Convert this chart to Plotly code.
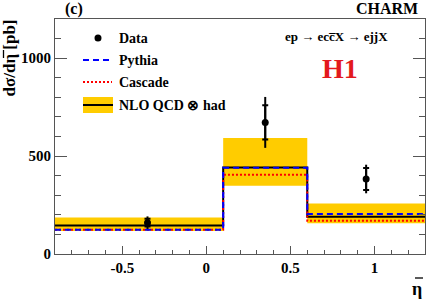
import plotly.graph_objects as go

# ---- data ----
bin_edges = [-0.9, 0.1, 0.6, 1.3]
data_x = [-0.35, 0.35, 0.95]
data_y = [160, 672, 383]
data_err_stat = [20, 87, 56]
data_err_tot = [32, 130, 73]

nlo = [145, 442, 190]
nlo_low = [118, 348, 157]
nlo_high = [187, 592, 258]
pythia = [124, 440, 204]
cascade = [124, 405, 170]

y_ticks = [0, 500, 1000]
y_tick_labels = ["0", "500", "1000"]
x_ticks = [-0.5, 0, 0.5, 1]
x_tick_labels = ["-0.5", "0", "0.5", "1"]


def step(vals):
    return list(vals) + [vals[-1]]


FONT = "Liberation Serif"
W, H = 426, 303
L, R, T, B = 55, 1, 19, 49
PW, PH = W - L - R, H - T - B


def px(x):
    return (x - L) / PW


def py(y):
    return (H - B - y) / PH


fig = go.Figure()

# band
fig.add_trace(go.Scatter(x=bin_edges, y=step(nlo_low), mode="lines", line=dict(width=0, shape="hv"),
                         showlegend=False, hoverinfo="skip"))
fig.add_trace(go.Scatter(x=bin_edges, y=step(nlo_high), mode="lines", line=dict(width=0, shape="hv"),
                         fill="tonexty", fillcolor="#FFCC00", showlegend=False, hoverinfo="skip"))
# NLO
fig.add_trace(go.Scatter(x=bin_edges, y=step(nlo), mode="lines", line=dict(color="black", width=2, shape="hv"),
                         showlegend=False))
# Cascade
fig.add_trace(go.Scatter(x=bin_edges, y=step(cascade), mode="lines",
                         line=dict(color="#FF0000", width=2, shape="hv", dash="2px,2px"), showlegend=False))
# Pythia
fig.add_trace(go.Scatter(x=bin_edges, y=step(pythia), mode="lines",
                         line=dict(color="#0000FF", width=2, shape="hv", dash="6px,4px"), showlegend=False))
# Data total error
fig.add_trace(go.Scatter(x=data_x, y=data_y, mode="markers", marker=dict(color="black", size=1),
                         error_y=dict(type="data", array=data_err_tot, color="black", thickness=2, width=0),
                         showlegend=False))
# Data stat error + points
fig.add_trace(go.Scatter(x=data_x, y=data_y, mode="markers", marker=dict(color="black", size=7),
                         error_y=dict(type="data", array=data_err_stat, color="black", thickness=2, width=3),
                         showlegend=False))

axis_font = dict(family=FONT, size=15, color="black")

fig.update_xaxes(range=[-0.9, 1.3], tickvals=x_ticks, ticktext=[f"<b>{t}</b>" for t in x_tick_labels],
                 ticks="inside", ticklen=8, tickwidth=1, tickcolor="#555",
                 minor=dict(dtick=0.1, ticks="inside", ticklen=4, tickcolor="#555"),
                 showline=True, linecolor="#555", linewidth=1, mirror=True,
                 showgrid=False, zeroline=False, tickfont=axis_font)
fig.update_yaxes(range=[0, 1200], tickvals=y_ticks, ticktext=[f"<b>{t}</b>" for t in y_tick_labels],
                 ticks="inside", ticklen=12, tickwidth=1, tickcolor="#555",
                 minor=dict(dtick=100, ticks="inside", ticklen=6, tickcolor="#555"),
                 showline=True, linecolor="#555", linewidth=1, mirror="ticks",
                 showgrid=False, zeroline=False, tickfont=axis_font)

ann = []


def text(x, y, s, size=14, xanchor="left", yanchor="middle", color="black", angle=0):
    ann.append(dict(x=px(x), y=py(y), xref="paper", yref="paper", text=f"<b>{s}</b>", showarrow=False,
                    xanchor=xanchor, yanchor=yanchor, textangle=angle,
                    font=dict(family=FONT, size=size, color=color)))


text(63, 9, "(c)", size=16)
text(420, 9, "CHARM", size=16, xanchor="right")
text(283, 36, "ep → ecc\u0305X → ejjX", size=13)
text(340, 68, "H1", size=28, xanchor="center", color="#E3191C")
text(9, 18, "dσ/dη [pb]", size=17, xanchor="center", yanchor="top", angle=-90)
text(424, 289, "η", size=18, xanchor="right")

# legend
leg_y = [38, 60, 82, 105]
leg_lbl = ["Data", "Pythia", "Cascade", "NLO QCD ⊗ had"]
for yy, lbl in zip(leg_y, leg_lbl):
    text(117, yy, lbl, size=14)

shapes = []


def pline(x0, y0, x1, y1, color="black", width=2, dash=None):
    shapes.append(dict(type="line", xref="paper", yref="paper", x0=px(x0), x1=px(x1), y0=py(y0), y1=py(y1),
                       line=dict(color=color, width=width, dash=dash)))


# bars over eta in axis titles
pline(415, 278, 423, 278, width=1.3)
pline(3.5, 50, 3.5, 58, width=1.3)

shapes.append(dict(type="circle", xref="paper", yref="paper", x0=px(94.5), x1=px(101.5), y0=py(41.5), y1=py(34.5),
                   fillcolor="black", line=dict(width=0)))
pline(83, 60, 112, 60, color="#0000FF", dash="6px,4px")
pline(83, 82, 112, 82, color="#FF0000", dash="2px,2px")
shapes.append(dict(type="rect", xref="paper", yref="paper", x0=px(83), x1=px(113), y0=py(113), y1=py(97),
                   fillcolor="#FFCC00", line=dict(width=0)))
pline(83, 105, 113, 105)

fig.update_layout(width=W, height=H, margin=dict(l=L, r=R, t=T, b=B, pad=0),
                  paper_bgcolor="white", plot_bgcolor="white",
                  font=dict(family=FONT, color="black"),
                  annotations=ann, shapes=shapes, showlegend=False)

fig.write_html("out.html", config={"displayModeBar": False},
               post_script="document.body.style.margin='0';document.body.style.overflow='hidden';")
